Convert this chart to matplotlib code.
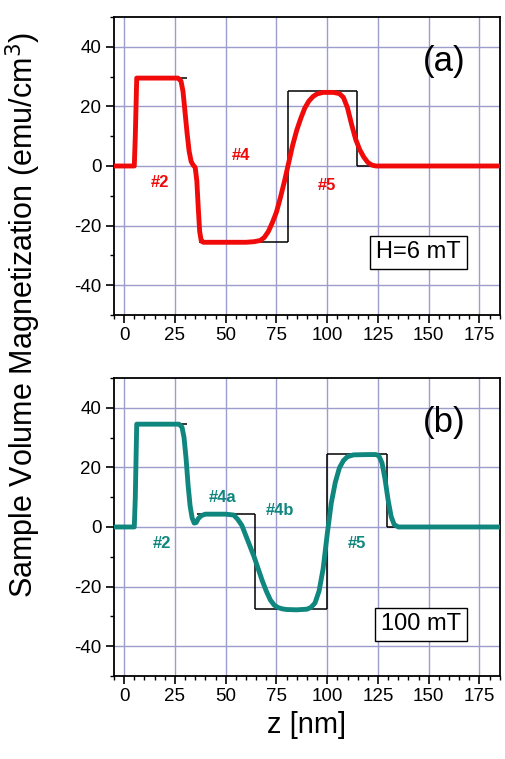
import matplotlib
matplotlib.use("Agg")
import matplotlib.pyplot as plt
from matplotlib.ticker import MultipleLocator

plt.rcParams['font.family'] = ['Liberation Sans', 'DejaVu Sans']
plt.rcParams['axes.unicode_minus'] = False

# ---- datos ----
# (a) H = 6 mT
z_a = [-5, 5, 5.5, 6.2, 26.5, 28, 29, 30, 31, 32, 33, 34, 35, 35.8, 36.5, 37.2, 38, 39,
       60, 64, 67, 69, 71, 73, 75, 77, 79, 81, 83, 85, 87, 89, 91, 93, 95, 98, 103, 106,
       108, 110, 112, 114, 116, 118, 120, 122, 124, 185]
m_a = [0, 0, 10, 29.5, 29.5, 28.5, 25, 18, 11, 5, 1.5, 0.3, -0.5, -5, -14, -22, -25.2, -25.6,
       -25.6, -25.4, -25, -24, -22, -19, -15.5, -10.5, -5, 1, 7, 12, 16, 19.5, 21.8, 23.3, 24.2,
       24.7, 24.7, 24.3, 23, 19.5, 14, 9, 5.5, 3, 1.2, 0.3, 0, 0]
# perfil de capas (modelo): tramos horizontales y saltos verticales
capas_a_y = [29.5, -25.6, 25, 0]
capas_a_x0 = [5.5, 37, 80.5, 114.5]
capas_a_x1 = [31, 80.5, 114.5, 125]
saltos_a_x = [80.5, 114.5]
saltos_a_y0 = [-25.6, 0]
saltos_a_y1 = [25, 25]

# (b) 100 mT
z_b = [-5, 5, 5.5, 6.2, 27, 28.5, 29.5, 30.5, 31.5, 32.5, 33.5, 34.5, 35.5, 36.5, 38, 40,
       50, 54, 56, 58, 60, 62, 64, 66, 68, 70, 72, 74, 76, 78, 80, 85, 90, 92, 94, 96, 98,
       100, 102, 104, 106, 108, 110, 113, 120, 124, 125.5, 127, 128.5, 130, 131.5, 133, 135, 185]
m_b = [0, 0, 10, 34.5, 34.5, 33.5, 30, 23, 14, 7, 3, 1.3, 1.5, 2.8, 3.8, 4.3,
       4.3, 4.0, 2.5, 0.5, -3, -6.5, -10, -14, -18, -21.5, -24.5, -26.3, -27.1, -27.5, -27.7,
       -27.8, -27.6, -27, -25.5, -21.5, -14, -2.5, 8, 15, 19.8, 22.3, 23.6, 24.2, 24.3, 24.3,
       23.8, 21.5, 16, 9, 3.5, 0.8, 0, 0]
capas_b_y = [34.5, 4.3, -27.6, 24.4, 0]
capas_b_x0 = [5.5, 36, 64.5, 100, 129.5]
capas_b_x1 = [31, 64.5, 100, 129.5, 136]
saltos_b_x = [64.5, 100, 129.5]
saltos_b_y0 = [-27.6, -27.6, 0]
saltos_b_y1 = [4.3, 24.4, 24.4]

rojo = '#f00a0a'
verde = '#10877e'
color_grid = '#9d9dcc'

fig = plt.figure(figsize=(5.05, 7.59), dpi=100)
ax1 = fig.add_axes([0.2257, 0.585, 0.764, 0.3926])
ax2 = fig.add_axes([0.2257, 0.1094, 0.764, 0.3926])

paneles = [
    (ax1, z_a, m_a, (capas_a_y, capas_a_x0, capas_a_x1), (saltos_a_x, saltos_a_y0, saltos_a_y1),
     rojo, '(a)', 'H=6 mT', (145, -29),
     [('#2', 17.5, -5.4), ('#4', 57.4, 3.6), ('#5', 100, -6.4)]),
    (ax2, z_b, m_b, (capas_b_y, capas_b_x0, capas_b_x1), (saltos_b_x, saltos_b_y0, saltos_b_y1),
     verde, '(b)', '100 mT', (146, -32.7),
     [('#2', 18.7, -5.5), ('#4a', 48.3, 10), ('#4b', 77, 5.4), ('#5', 114.8, -5.5)]),
]

for ax, z, m, capas, saltos, col, letra, campo, pos_campo, etiquetas in paneles:
    ax.set_xlim(-5, 185)
    ax.set_ylim(-50, 50)
    ax.xaxis.set_major_locator(MultipleLocator(25))
    ax.xaxis.set_minor_locator(MultipleLocator(5))
    ax.yaxis.set_major_locator(MultipleLocator(20))
    ax.yaxis.set_minor_locator(MultipleLocator(10))
    ax.grid(True, which='major', color=color_grid, linewidth=1.0)
    ax.set_axisbelow(True)
    ax.tick_params(which='major', direction='out', length=5.5, width=1.2,
                   labelsize=13.5, top=False, right=False)
    ax.tick_params(which='minor', direction='out', length=3, width=1.0,
                   top=False, right=False)
    for s in ax.spines.values():
        s.set_linewidth(1.3)

    ax.hlines(capas[0], capas[1], capas[2], color='black', linewidth=1.1, zorder=3)
    ax.vlines(saltos[0], saltos[1], saltos[2], color='black', linewidth=1.1, zorder=3)
    ax.plot(z, m, color=col, linewidth=3.5, solid_joinstyle='round',
            solid_capstyle='round', zorder=4)

    for txt, x, y in etiquetas:
        ax.text(x, y, txt, color=col, fontsize=12, fontweight='bold',
                ha='center', va='center', zorder=5)
    ax.text(157.5, 35, letra, fontsize=25, ha='center', va='center', zorder=5)
    ax.text(pos_campo[0], pos_campo[1], campo, fontsize=17, ha='center', va='center',
            zorder=5, bbox=dict(boxstyle='square,pad=0.25', facecolor='white',
                                edgecolor='black', linewidth=1.0))

ax2.set_xlabel('z [nm]', fontsize=21, labelpad=4)
fig.text(0.046, 0.585, 'Sample Volume Magnetization (emu/cm$^3$)', rotation=90,
         fontsize=22, ha='center', va='center')

fig.savefig('out.png', dpi=100)
